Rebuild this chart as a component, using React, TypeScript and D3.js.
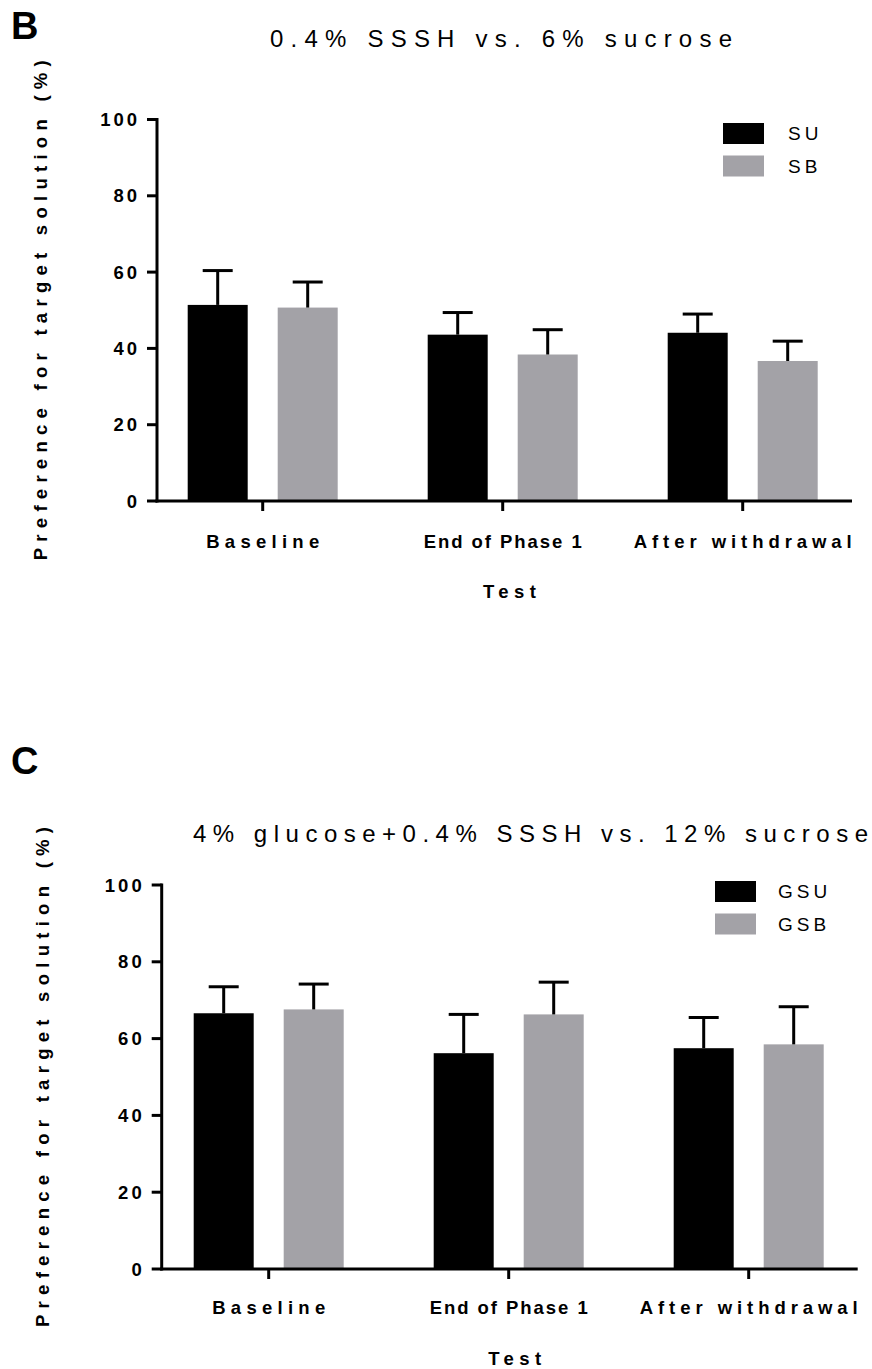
import React from "react";
import * as d3 from "d3";

const categories = ["Baseline", "End of Phase 1", "After withdrawal"];
const yTicks = [0, 20, 40, 60, 80, 100];

const seriesB = ["SU", "SB"];
const meanB_SU = [51.4, 43.6, 44.1];
const errB_SU = [60.4, 49.4, 49.0];
const meanB_SB = [50.7, 38.4, 36.7];
const errB_SB = [57.4, 44.9, 41.9];

const seriesC = ["GSU", "GSB"];
const meanC_GSU = [66.6, 56.2, 57.5];
const errC_GSU = [73.5, 66.3, 65.5];
const meanC_GSB = [67.6, 66.3, 58.5];
const errC_GSB = [74.2, 74.7, 68.3];

const colors = ["#000000", "#a3a2a7"];
const FONT = "'Liberation Sans', Arial, Helvetica, sans-serif";

type PanelProps = {
  letter: string;
  letterY: number;
  title: string;
  titleX: number;
  titleY: number;
  titleLen: number;
  axisX0: number;
  axisX1: number;
  y0: number;
  y100: number;
  bandStart: number;
  series: string[];
  means: number[][];
  errs: number[][];
  legendX: number;
  legendY: number;
  legendTextX: number;
  catBaseline: number;
  testBaseline: number;
  yLabelX: number;
};

function Panel(p: PanelProps) {
  const x0 = d3.scaleBand<string>().domain(categories).range([p.bandStart, p.bandStart + 240 * 3]).paddingInner(0).paddingOuter(0);
  const x1 = d3.scaleBand<string>().domain(p.series).range([45, 195]).paddingInner(1 / 3).paddingOuter(0);
  const y = d3.scaleLinear().domain([0, 100]).range([p.y0, p.y100]);
  const catLens = [113, 158, 218];
  return (
    <g fontFamily={FONT}>
      <text x={11} y={p.letterY} fontSize={38} fontWeight="bold">{p.letter}</text>
      <text x={p.titleX} y={p.titleY} fontSize={24} textLength={p.titleLen} lengthAdjust="spacing">{p.title}</text>
      <text
        transform={`translate(${p.yLabelX},${(p.y0 + p.y100) / 2}) rotate(-90)`}
        textAnchor="middle"
        fontSize={18.5}
        fontWeight="bold"
        textLength={500}
        lengthAdjust="spacing"
      >
        Preference for target solution (%)
      </text>
      {/* y axis */}
      <line x1={p.axisX0} x2={p.axisX0} y1={p.y100 - 1.5} y2={p.y0 + 1.5} stroke="#000" strokeWidth={3} />
      {yTicks.map((t) => (
        <g key={t}>
          <line x1={p.axisX0 - 10} x2={p.axisX0} y1={y(t)} y2={y(t)} stroke="#000" strokeWidth={3} />
          <text x={p.axisX0 - 17} y={y(t) + 6.5} textAnchor="end" fontSize={18.5} fontWeight="bold" letterSpacing={3}>
            {t}
          </text>
        </g>
      ))}
      {/* bars */}
      {categories.map((c, i) => (
        <g key={c} transform={`translate(${x0(c)},0)`}>
          {p.series.map((s, k) => {
            const bx = x1(s)!;
            const bw = x1.bandwidth();
            const top = y(p.means[k][i]);
            const et = y(p.errs[k][i]);
            return (
              <g key={s}>
                <rect x={bx} y={top} width={bw} height={p.y0 - top} fill={colors[k]} />
                <line x1={bx + bw / 2} x2={bx + bw / 2} y1={top} y2={et} stroke="#000" strokeWidth={3} />
                <line x1={bx + bw / 2 - 15} x2={bx + bw / 2 + 15} y1={et} y2={et} stroke="#000" strokeWidth={3} />
              </g>
            );
          })}
        </g>
      ))}
      {/* x axis */}
      <line x1={p.axisX0 - 1.5} x2={p.axisX1} y1={p.y0} y2={p.y0} stroke="#000" strokeWidth={3} />
      {categories.map((c, i) => {
        const cx = x0(c)! + x0.bandwidth() / 2;
        return (
          <g key={c}>
            <line x1={cx} x2={cx} y1={p.y0} y2={p.y0 + 10} stroke="#000" strokeWidth={3} />
            <text x={cx} y={p.catBaseline} textAnchor="middle" fontSize={18.5} fontWeight="bold" textLength={catLens[i]} lengthAdjust="spacing">
              {c}
            </text>
          </g>
        );
      })}
      <text x={(p.axisX0 + p.axisX1) / 2 + 5} y={p.testBaseline} textAnchor="middle" fontSize={18.5} fontWeight="bold" textLength={53} lengthAdjust="spacing">
        Test
      </text>
      {/* legend */}
      {p.series.map((s, k) => (
        <g key={s}>
          <rect x={p.legendX} y={p.legendY + k * 32.5} width={41} height={21} fill={colors[k]} />
          <text x={p.legendTextX} y={p.legendY + k * 32.5 + 17} fontSize={19} letterSpacing={4}>
            {s}
          </text>
        </g>
      ))}
    </g>
  );
}

export default function App() {
  return (
    <svg width={872} height={1369} style={{ display: "block", position: "absolute", left: 0, top: 0, background: "#fff" }}>
      <rect width={872} height={1369} fill="#fff" />
      <Panel
        letter="B"
        letterY={39}
        title="0.4% SSSH vs. 6% sucrose"
        titleX={270}
        titleY={47}
        titleLen={462}
        axisX0={157}
        axisX1={852}
        y0={501}
        y100={119.5}
        bandStart={142.7}
        series={seriesB}
        means={[meanB_SU, meanB_SB]}
        errs={[errB_SU, errB_SB]}
        legendX={723}
        legendY={123}
        legendTextX={788}
        catBaseline={548}
        testBaseline={598}
        yLabelX={47}
      />
      <Panel
        letter="C"
        letterY={774}
        title="4% glucose+0.4% SSSH vs. 12% sucrose"
        titleX={193}
        titleY={842}
        titleLen={675}
        axisX0={161.7}
        axisX1={857.7}
        y0={1269}
        y100={885}
        bandStart={148.7}
        series={seriesC}
        means={[meanC_GSU, meanC_GSB]}
        errs={[errC_GSU, errC_GSB]}
        legendX={715}
        legendY={881}
        legendTextX={778}
        catBaseline={1314}
        testBaseline={1365}
        yLabelX={49}
      />
    </svg>
  );
}
